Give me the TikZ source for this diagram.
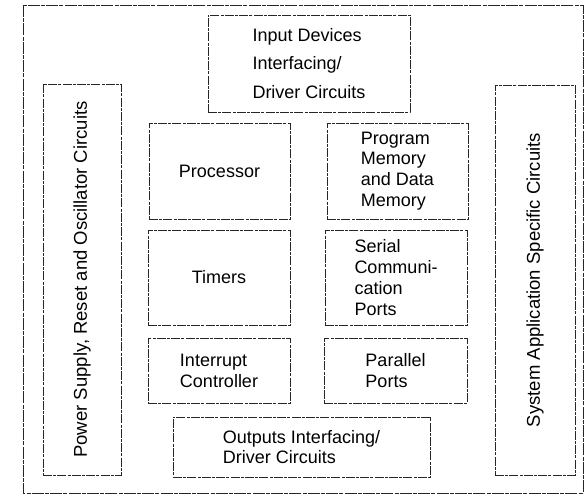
\documentclass[tikz,border=0pt]{standalone}
\usepackage{fontspec}
\setmainfont{Liberation Sans}
\begin{document}
\begin{tikzpicture}[x=1pt,y=-1pt,
  box/.style={draw=black!85, line width=0.8pt, dash pattern=on 9pt off 1.2pt on 3pt off 1.2pt,
    rectangle, inner sep=0pt, align=left, text=black,
    font=\fontsize{18}{20.8}\selectfont},
  outer/.style={draw=black!85, line width=0.8pt, dash pattern=on 12pt off 1.2pt on 4pt off 1.2pt}]
\useasboundingbox (0,0) rectangle (585,495);
\draw[outer] (23,5) rectangle (583,493);
% top input box
\node[box, minimum width=202pt, minimum height=97pt, font=\fontsize{18}{28.5}\selectfont] (inp) at (309,63.5)
  {Input Devices\\Interfacing/\\Driver Circuits};
% side boxes
\node[box, minimum width=78pt, minimum height=391pt, font=\fontsize{18.5}{21}\selectfont] (pwr) at (82,279.5)
  {\rotatebox{90}{Power Supply, Reset and Oscillator Circuits}};
\node[box, minimum width=80pt, minimum height=390pt, font=\fontsize{18.5}{21}\selectfont] (sys) at (535,280)
  {\rotatebox{90}{System Application Specific Circuits}};
% center grid
\node[box, minimum width=141pt, minimum height=96pt] (proc) at (219.5,171) {Processor};
\node[box, minimum width=141pt, minimum height=96pt] (mem) at (397.5,171)
  {Program\\Memory\\and Data\\Memory};
\node[box, minimum width=142pt, minimum height=95pt] (tim) at (219,277.5) {Timers};
\node[box, minimum width=142pt, minimum height=95pt] (ser) at (396,277.5)
  {Serial\\Communi-\\cation\\Ports};
\node[box, minimum width=142pt, minimum height=65pt] (intc) at (219,370.5)
  {Interrupt\\Controller};
\node[box, minimum width=143pt, minimum height=65pt] (par) at (395.5,370.5)
  {Parallel\\Ports};
% bottom output box
\node[box, minimum width=257pt, minimum height=60pt] (out) at (301.5,447)
  {Outputs Interfacing/\\Driver Circuits};
\end{tikzpicture}
\end{document}
